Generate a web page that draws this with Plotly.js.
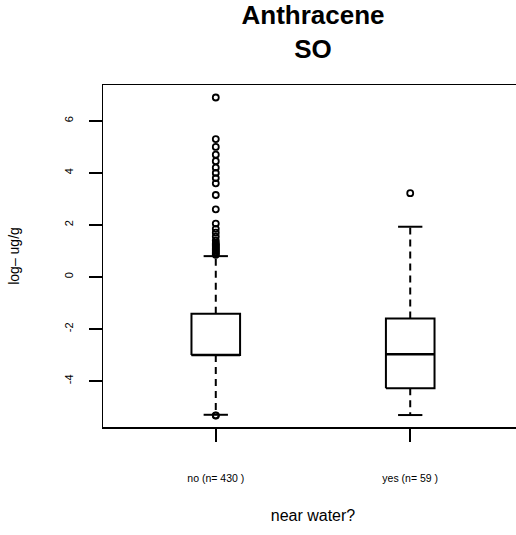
<!DOCTYPE html>
<html>
<head>
<meta charset="utf-8">
<script src="https://cdn.plot.ly/plotly-3.0.1.min.js"></script>
<style>
  html, body { margin: 0; padding: 0; overflow: hidden; background: #fff; }
  #chart { width: 523px; height: 535px; }
</style>
</head>
<body>
<div id="chart"></div>
<script>
// ---- data ----
const categories = ["no", "yes"];
const counts = [430, 59];
const lowerWhisker = [-5.30, -5.31];
const q1 = [-3.0, -4.28];
const median = [-3.0, -2.97];
const q3 = [-1.42, -1.60];
const upperWhisker = [0.80, 1.93];
const outliersNo = [6.90, 5.30, 5.00, 4.70, 4.45, 4.20, 4.00, 3.80, 3.60, 3.15, 2.60,
                    2.05, 1.85, 1.70, 1.55, 1.40, 1.30, 1.25, 1.20, 1.15, 1.10, 1.05,
                    1.00, 0.95, 0.90, 0.85, -5.32, -5.33];
const outliersYes = [3.22];
const outliers = [outliersNo, outliersYes];
const yTickVals = [-4, -2, 0, 2, 4, 6];
const tickLabels = categories.map((c, i) => c + " (n= " + counts[i] + " )");

// ---- style ----
const boxHalf = 0.125, capHalf = 0.0625;
const black = "#000000";
const font = "Liberation Sans, Arial, Helvetica, sans-serif";

const traces = [];
categories.forEach((c, i) => {
  traces.push({
    type: "scatter", mode: "lines", hoverinfo: "skip", showlegend: false,
    x: [i - boxHalf, i + boxHalf, i + boxHalf, i - boxHalf, i - boxHalf],
    y: [q1[i], q1[i], q3[i], q3[i], q1[i]],
    line: { color: black, width: 2 }
  });
  traces.push({
    type: "scatter", mode: "lines", hoverinfo: "skip", showlegend: false,
    x: [i - boxHalf, i + boxHalf], y: [median[i], median[i]],
    line: { color: black, width: 2.5 }
  });
  traces.push({
    type: "scatter", mode: "lines", hoverinfo: "skip", showlegend: false,
    x: [i, i, null, i, i], y: [q3[i], upperWhisker[i], null, q1[i], lowerWhisker[i]],
    line: { color: black, width: 2, dash: "7px,5px" }
  });
  traces.push({
    type: "scatter", mode: "lines", hoverinfo: "skip", showlegend: false,
    x: [i - capHalf, i + capHalf, null, i - capHalf, i + capHalf],
    y: [upperWhisker[i], upperWhisker[i], null, lowerWhisker[i], lowerWhisker[i]],
    line: { color: black, width: 2 }
  });
  traces.push({
    type: "scatter", mode: "markers", hoverinfo: "skip", showlegend: false,
    x: outliers[i].map(() => i), y: outliers[i],
    marker: { symbol: "circle-open", size: 6, color: black, line: { color: black, width: 1.8 } }
  });
});

const layout = {
  width: 523, height: 535,
  margin: { l: 103, r: 0, t: 85, b: 108 },
  paper_bgcolor: "#fff", plot_bgcolor: "#fff",
  font: { family: font, color: black },
  showlegend: false,
  title: {
    text: "<b>Anthracene</b><br><b>SO</b>",
    font: { family: font, size: 26, color: black },
    x: 0.5, xref: "paper", xanchor: "center",
    y: 0.955, yref: "container", yanchor: "top"
  },
  xaxis: {
    range: [-0.58, 1.58],
    tickvals: categories.map((c, i) => i), ticktext: tickLabels,
    ticks: "outside", ticklen: 13, tickwidth: 1.5, tickcolor: black,
    ticklabelstandoff: 28,
    tickfont: { size: 10.5, family: font, color: black },
    showgrid: false, zeroline: false,
    showline: true, mirror: true, linecolor: black, linewidth: 1.5,
    title: { text: "near water?", font: { size: 16, family: font, color: black }, standoff: 26 }
  },
  yaxis: {
    range: [-5.77, 7.38],
    tickvals: yTickVals, ticktext: yTickVals.map(String),
    ticks: "outside", ticklen: 13, tickwidth: 1.5, tickcolor: black,
    tickangle: -90, ticklabelstandoff: 11,
    tickfont: { size: 11, family: font, color: black },
    showgrid: false, zeroline: false,
    showline: true, mirror: true, linecolor: black, linewidth: 1.5,
    title: { text: "log– ug/g", font: { size: 14, family: font, color: black }, standoff: 40 }
  }
};

Plotly.newPlot("chart", traces, layout, { staticPlot: true, displayModeBar: false });
</script>
</body>
</html>
